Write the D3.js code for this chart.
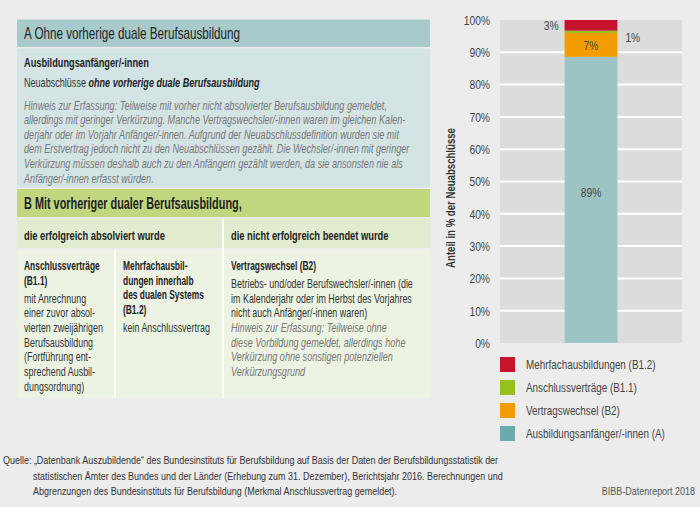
<!DOCTYPE html>
<html>
<head>
<meta charset="utf-8">
<script src="https://cdn.jsdelivr.net/npm/d3@7"></script>
<style>
  body { margin: 0; background: #ececec; }
  svg { display: block; font-family: "Liberation Sans", Arial, sans-serif; }
</style>
</head>
<body>
<div id="chart"></div>
<script>
// chart data
var categories = ["Ausbildungsanfänger/-innen (A)", "Vertragswechsel (B2)", "Anschlussverträge (B1.1)", "Mehrfachausbildungen (B1.2)"];
var values = [88.6, 7.4, 0.7, 3.3];
var colors = ["#9dc4c5", "#f49d00", "#95c11f", "#c8132d"];
var legendColors = ["#6aabad", "#f49d00", "#95c11f", "#c8132d"];
var yTicks = [0, 10, 20, 30, 40, 50, 60, 70, 80, 90, 100];
var barName = ["2016"];
var yTitle = "Anteil in % der Neuabschlüsse";

// text of the left scheme
var headA = "A Ohne vorherige duale Berufsausbildung";
var hinweisA = [
  "Hinweis zur Erfassung: Teilweise mit vorher nicht absolvierter Berufsausbildung gemeldet,",
  "allerdings mit geringer Verkürzung. Manche Vertragswechsler/-innen waren im gleichen Kalen-",
  "derjahr oder im Vorjahr Anfänger/-innen. Aufgrund der Neuabschlussdefinition wurden sie mit",
  "dem Erstvertrag jedoch nicht zu den Neuabschlüssen gezählt. Die Wechsler/-innen mit geringer",
  "Verkürzung müssen deshalb auch zu den Anfängern gezählt werden, da sie ansonsten nie als",
  "Anfänger/-innen erfasst würden."
];
var headB = "B Mit vorheriger dualer Berufsausbildung,";
var subHeads = ["die erfolgreich absolviert wurde", "die nicht erfolgreich beendet wurde"];
var col1Head = ["Anschlussverträge", "(B1.1)"];
var col1Text = ["mit Anrechnung", "einer zuvor absol-", "vierten zweijährigen", "Berufsausbildung", "(Fortführung ent-", "sprechend Ausbil-", "dungsordnung)"];
var col2Head = ["Mehrfachausbil-", "dungen innerhalb", "des dualen Systems", "(B1.2)"];
var col3Text = ["Betriebs- und/oder Berufswechsler/-innen (die", "im Kalenderjahr oder im Herbst des Vorjahres", "nicht auch Anfänger/-innen waren)"];
var col3Hinweis = ["Hinweis zur Erfassung: Teilweise ohne", "diese Vorbildung gemeldet, allerdings hohe", "Verkürzung ohne sonstigen potenziellen", "Verkürzungsgrund"];
var source = [
  "Quelle: „Datenbank Auszubildende“ des Bundesinstituts für Berufsbildung auf Basis der Daten der Berufsbildungsstatistik der",
  "statistischen Ämter des Bundes und der Länder (Erhebung zum 31. Dezember), Berichtsjahr 2016. Berechnungen und",
  "Abgrenzungen des Bundesinstituts für Berufsbildung (Merkmal Anschlussvertrag gemeldet)."
];

var width = 700, height = 507;
var svg = d3.select("#chart").append("svg")
    .attr("width", width)
    .attr("height", height);

svg.append("rect").attr("width", width).attr("height", height).attr("fill", "#ececec");

// the original uses a condensed font, so texts get squeezed horizontally
function measure(str, size, weight, style) {
  var t = svg.append("text").attr("font-size", size).attr("font-weight", weight).attr("font-style", style).text(str);
  var w = t.node().getComputedTextLength();
  t.remove();
  return w;
}
var BODY = 12.5, HEAD = 16;
var kHeadA = 216 / measure(headA, HEAD, "normal", "normal");
var kHeadB = 218 / measure(headB, HEAD, "bold", "normal");
var kSub = 141 / measure(subHeads[0], BODY, "bold", "normal");
var kColHead = 81 / measure("des dualen Systems", BODY, "bold", "normal");
var kReg = 182 / measure(col3Text[0], BODY, "normal", "normal");
var kIt = 363 / measure(hinweisA[0], BODY, "normal", "italic");
var kFoot = 496 / measure(source[0], 11.5, "normal", "normal");
var kLeg = 139 / measure(categories[0], 13, "normal", "normal");
var kY = 140 / measure(yTitle, 12.5, "bold", "normal");

// ---------- left scheme ----------
var L = 17, R = 430;
function box(x, y, w, h, fill) {
  svg.append("rect").attr("x", x).attr("y", y).attr("width", w).attr("height", h).attr("fill", fill);
}
// k is either a squeeze factor or a target width in px ({w: ...})
function lines(arr, x, y0, step, size, weight, style, fill, k) {
  var f = typeof k === "number" ? k : k.w / measure(arr[0], size, weight, style);
  return svg.append("g").selectAll("text")
    .data(arr)
    .enter().append("text")
    .attr("transform", (d, i) => "translate(" + x + "," + (y0 + i * step) + ") scale(" + f + ",1)")
    .attr("font-size", size)
    .attr("font-weight", weight)
    .attr("font-style", style)
    .attr("fill", fill)
    .text(d => d);
}

box(L, 19.5, R - L, 27.5, "#a8cacb");
box(L, 48.5, R - L, 139, "#d4e4e5");
box(L, 189, R - L, 28, "#c0d77f");
box(L, 219, R - L, 29, "#e1ebcd");
box(L, 249.5, R - L, 148.5, "#edf3e3");
// white dividers
svg.append("line").attr("x1", 223).attr("x2", 223).attr("y1", 219).attr("y2", 398).attr("stroke", "#fff").attr("stroke-width", 2);
svg.append("line").attr("x1", 115).attr("x2", 115).attr("y1", 249.5).attr("y2", 398).attr("stroke", "#fff").attr("stroke-width", 2);

lines([headA], 24, 39, 0, HEAD, "normal", "normal", "#222", kHeadA);
lines(["Ausbildungsanfänger/-innen"], 24, 66.5, 0, BODY, "bold", "normal", "#222", { w: 125 });
var neu = svg.append("text").attr("font-size", BODY).attr("fill", "#333");
neu.append("tspan").text("Neuabschlüsse ");
neu.append("tspan").attr("font-weight", "bold").attr("font-style", "italic").attr("fill", "#222").text("ohne vorherige duale Berufsausbildung");
neu.attr("transform", "translate(24,86.5) scale(" + (236 / neu.node().getComputedTextLength()) + ",1)");
lines(hinweisA, 24, 109.5, 14.6, BODY, "normal", "italic", "#777", kIt);

lines([headB], 24, 208.5, 0, HEAD, "bold", "normal", "#222", kHeadB);
lines([subHeads[0]], 24, 239.5, 0, BODY, "bold", "normal", "#222", kSub);
lines([subHeads[1]], 231, 239.5, 0, BODY, "bold", "normal", "#222", kSub);

lines(col1Head, 24, 270, 15, BODY, "bold", "normal", "#222", kColHead);
lines(col1Text, 24, 302.5, 14.7, BODY, "normal", "normal", "#333", kReg);
lines(col2Head, 123, 270, 14.5, BODY, "bold", "normal", "#222", kColHead);
lines(["kein Anschlussvertrag"], 123, 331.8, 0, BODY, "normal", "normal", "#333", kReg);
lines(["Vertragswechsel (B2)"], 231, 270, 0, BODY, "bold", "normal", "#222", kColHead);
lines(col3Text, 231, 288, 14.6, BODY, "normal", "normal", "#333", kReg);
lines(col3Hinweis, 231, 331.8, 14.8, BODY, "normal", "italic", "#777", kIt);

// ---------- stacked bar chart ----------
var x = d3.scaleBand().domain(barName).range([500, 682]).paddingInner(0.55).paddingOuter(0.55);
var y = d3.scaleLinear().domain([0, 100]).range([343, 20]);

svg.append("rect").attr("x", 500).attr("y", y(100)).attr("width", 182).attr("height", y(0) - y(100)).attr("fill", "#dcdcdc");

svg.append("g").selectAll("line")
  .data(yTicks.filter(d => d > 0 && d < 100))
  .enter().append("line")
  .attr("x1", 500).attr("x2", 682)
  .attr("y1", d => y(d)).attr("y2", d => y(d))
  .attr("stroke", "#fff").attr("stroke-width", 2);

var yAxis = svg.append("g")
  .attr("transform", "translate(490,0)")
  .call(d3.axisLeft(y).tickValues(yTicks).tickFormat(d => d + "%").tickSize(0).tickPadding(0));
yAxis.select(".domain").remove();
yAxis.selectAll("text")
  .attr("font-size", 13.5).attr("fill", "#444").attr("font-family", "inherit")
  .attr("transform", "scale(" + kLeg + ",1)");

svg.append("text")
  .attr("transform", "translate(455,198) rotate(-90) scale(" + kY + ",1)")
  .attr("text-anchor", "middle")
  .attr("font-size", 12.5)
  .attr("font-weight", "bold")
  .attr("fill", "#333")
  .text(yTitle);

var stackData = [{}];
categories.forEach((c, i) => stackData[0][c] = values[i]);
var series = d3.stack().keys(categories)(stackData);

svg.append("g").selectAll("rect")
  .data(series)
  .enter().append("rect")
  .attr("x", x("2016"))
  .attr("width", x.bandwidth())
  .attr("y", d => y(d[0][1]))
  .attr("height", d => y(d[0][0]) - y(d[0][1]))
  .attr("fill", (d, i) => colors[i]);

// value labels: inside for big segments, outside for the small ones
var labelPos = [
  { side: 0, dy: -3 },
  { side: 0, dy: 5 },
  { side: 1, dy: 10 },
  { side: -1, dy: 5 }
];
svg.append("g").selectAll("text")
  .data(series)
  .enter().append("text")
  .attr("transform", (d, i) => {
    var p = labelPos[i];
    var lx = x("2016") + x.bandwidth() / 2;
    if (p.side > 0) lx = x("2016") + x.bandwidth() + 8;
    if (p.side < 0) lx = x("2016") - 6;
    var ly = (y(d[0][0]) + y(d[0][1])) / 2 + p.dy;
    return "translate(" + lx + "," + ly + ") scale(" + kLeg + ",1)";
  })
  .attr("text-anchor", (d, i) => labelPos[i].side > 0 ? "start" : (labelPos[i].side < 0 ? "end" : "middle"))
  .attr("font-size", 13.5)
  .attr("fill", "#444")
  .text(d => d3.format(".0f")(d[0][1] - d[0][0]) + "%");

// legend (top entry = top segment)
var legendOrder = [3, 2, 1, 0];
var legend = svg.append("g").selectAll("g")
  .data(legendOrder)
  .enter().append("g")
  .attr("transform", (d, i) => "translate(500," + (357 + i * 23) + ")");
legend.append("rect").attr("width", 15).attr("height", 15).attr("fill", d => legendColors[d]);
legend.append("text")
  .attr("transform", "translate(26,12) scale(" + kLeg + ",1)")
  .attr("font-size", 13).attr("fill", "#444").text(d => categories[d]);

// source
lines([source[0]], 3, 464, 0, 11.5, "normal", "normal", "#333", kFoot);
lines(source.slice(1), 33, 479.5, 15.8, 11.5, "normal", "normal", "#333", kFoot);
svg.append("text")
  .attr("transform", "translate(695,495.3) scale(" + kFoot + ",1)")
  .attr("text-anchor", "end").attr("font-size", 11.5).attr("fill", "#555").text("BIBB-Datenreport 2018");
</script>
</body>
</html>
